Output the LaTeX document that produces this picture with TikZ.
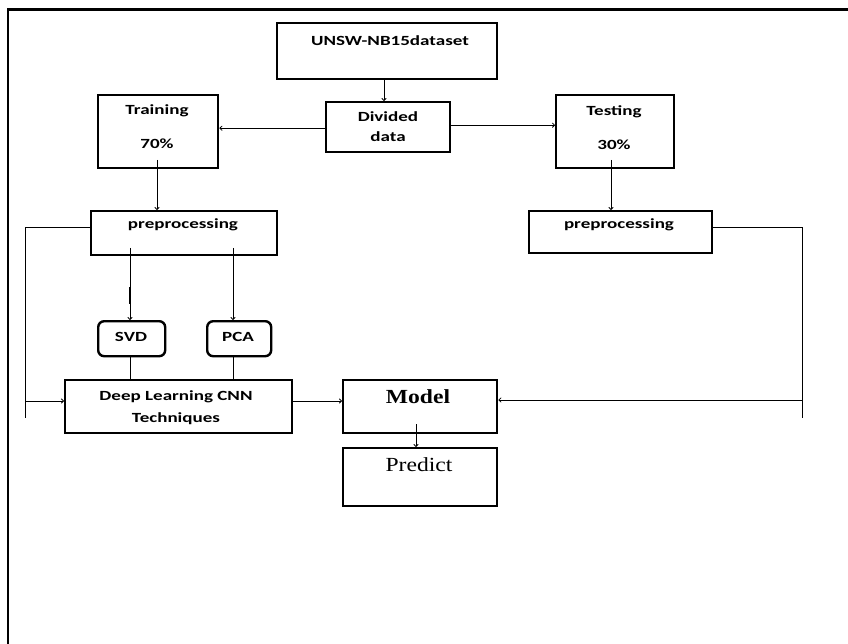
\documentclass[tikz,border=0pt]{standalone}
\usepackage{fontspec}
\setmainfont{Carlito}
\newfontfamily\tms{Liberation Serif}
\usetikzlibrary{arrows.meta}
\newcommand{\wide}[1]{\scalebox{1.36}[1]{#1}}
\newcommand{\widet}[1]{\scalebox{1.18}[1]{#1}}
\begin{document}
\begin{tikzpicture}[x=1pt,y=-1pt,
  box/.style={draw, line width=2.4pt, inner sep=0pt, anchor=north west},
  rbox/.style={box, rounded corners=6pt},
  lbl/.style={font=\bfseries\fontsize{14}{16}\selectfont, inner sep=0pt, align=center},
  conn/.style={line width=0.8pt},
  arr/.style={conn, -{To[length=3pt,width=5pt]}}]
\useasboundingbox (0,0) rectangle (848,644);
% frame
\draw[line width=2.2pt] (8,644) -- (8,9.5) -- (848,9.5);
% boxes
\node[box, minimum width=220pt, minimum height=56pt] (unsw) at (276,22) {};
\node[box, minimum width=124pt, minimum height=50pt] (dd) at (325,101) {};
\node[box, minimum width=120pt, minimum height=73pt] (train) at (97,94) {};
\node[box, minimum width=118pt, minimum height=73pt] (test) at (555,94) {};
\node[box, minimum width=186pt, minimum height=44pt] (pl) at (90,210) {};
\node[box, minimum width=183pt, minimum height=42pt] (pr) at (528,210) {};
\node[rbox, minimum width=67pt, minimum height=35pt] (svd) at (97,320) {};
\node[rbox, minimum width=64pt, minimum height=35pt] (pca) at (206,320) {};
\node[box, minimum width=227pt, minimum height=53pt] (dl) at (64,379) {};
\node[box, minimum width=154pt, minimum height=53pt] (model) at (342,379) {};
\node[box, minimum width=154pt, minimum height=58pt] (pred) at (342,447) {};
% labels
\node[lbl] (tunsw) at (390,41) {\wide{UNSW-NB15dataset}};
\node[lbl] (tdd1) at (388,117) {\wide{Divided}};
\node[lbl] (tdd2) at (388,137) {\wide{data}};
\node[lbl] (ttr1) at (157,111) {\wide{Training}};
\node[lbl] (ttr2) at (157,144) {\wide{70\%}};
\node[lbl] (tte1) at (614,112) {\wide{Testing}};
\node[lbl] (tte2) at (614,145) {\wide{30\%}};
\node[lbl] (tpl) at (183,225) {\wide{preprocessing}};
\node[lbl] (tpr) at (619,225) {\wide{preprocessing}};
\node[lbl] (tsvd) at (131,337) {\wide{SVD}};
\node[lbl] (tpca) at (238,337) {\wide{PCA}};
\node[lbl] (tdl1) at (176,397) {\wide{Deep Learning CNN}};
\node[lbl] (tdl2) at (176,419) {\wide{Techniques}};
\node[inner sep=0pt, font=\tms\bfseries\fontsize{20}{22}\selectfont] (tmodel) at (418,397) {\widet{Model}};
\node[inner sep=0pt, font=\tms\fontsize{20}{22}\selectfont] (tpred) at (419,465) {\widet{Predict}};
% connectors
\draw[arr] (unsw.south -| 384,0) -- (dd.north -| 384,0);
\draw[arr] ([yshift=-1pt]dd.west) -- ([yshift=-1pt]dd.west -| train.east);
\draw[arr] ([yshift=2pt]dd.east) -- ([yshift=2pt]dd.east -| test.west);
\draw[arr] (157,160) -- (pl.north -| 157,0);
\draw[arr] (611,160) -- (pr.north -| 611,0);
\draw[arr] (130,248) -- (svd.north -| 130,0);
\draw[arr] (233,248) -- (pca.north -| 233,0);
\draw[line width=1.6pt] (130,287) -- (130,304);
\draw[conn] (svd.south -| 130,0) -- (dl.north -| 130,0);
\draw[conn] (pca.south -| 233,0) -- (dl.north -| 233,0);
\coordinate (lt) at (25,227);
\coordinate (lb) at (25,418);
\coordinate (la) at (25,401);
\draw[conn] (pl.west |- lt) -- (lt) -- (lb);
\draw[arr] (la) -- (la -| dl.west);
\coordinate (rt) at (802,227);
\coordinate (rb) at (802,418);
\coordinate (ra) at (802,400);
\draw[conn] (pr.east |- rt) -- (rt) -- (rb);
\draw[arr] (ra) -- (ra -| model.east);
\draw[arr] (dl.east |- 0,401) -- (model.west |- 0,401);
\draw[arr] (416,424) -- (pred.north -| 416,0);
\end{tikzpicture}
\end{document}
